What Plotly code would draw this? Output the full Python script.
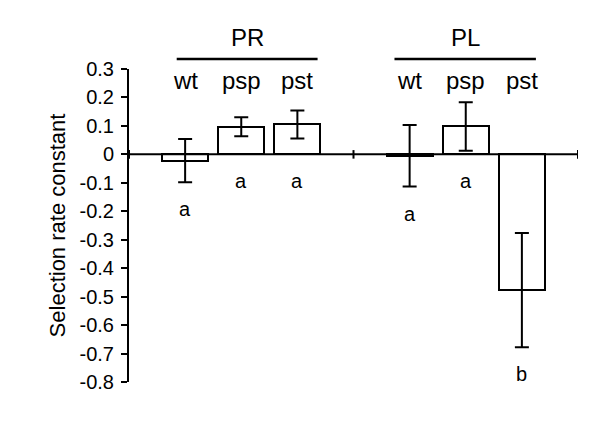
import plotly.graph_objects as go

# data
groups = ["PR", "PL"]
strains = ["wt", "psp", "pst", "wt", "psp", "pst"]
x_pos = [0, 1, 2, 4, 5, 6]
means = [-0.022, 0.097, 0.105, -0.005, 0.098, -0.477]
errors = [0.076, 0.033, 0.049, 0.108, 0.085, 0.201]
letters = ["a", "a", "a", "a", "a", "b"]
y_ticks = [0.3, 0.2, 0.1, 0, -0.1, -0.2, -0.3, -0.4, -0.5, -0.6, -0.7, -0.8]

FONT = "Liberation Sans, Arial, sans-serif"

fig = go.Figure()

fig.add_trace(go.Bar(
    x=x_pos,
    y=means,
    width=0.82,
    marker=dict(color="white", line=dict(color="black", width=2)),
    error_y=dict(type="data", array=errors, visible=True,
                 color="black", thickness=2, width=7),
    showlegend=False,
))

# horizontal zero line with crossing ticks
fig.add_shape(type="line", x0=-1, x1=7, y0=0, y1=0,
              line=dict(color="black", width=2), layer="above")
for xt in [-1, 3, 7]:
    fig.add_shape(type="line", x0=xt, x1=xt, y0=-0.015, y1=0.015,
                  line=dict(color="black", width=2))

annotations = []
# strain labels above bars
for xp, s in zip(x_pos, strains):
    annotations.append(dict(x=xp, y=0.962, xref="x", yref="paper", text=s,
                            yanchor="middle", showarrow=False, font=dict(size=24)))
# significance letters below bars / error bars
for xp, m, e, l in zip(x_pos, means, errors, letters):
    annotations.append(dict(x=xp, y=min(0, m - e) - 0.095, xref="x", yref="y",
                            text=l, yanchor="middle", showarrow=False,
                            font=dict(size=20)))
# group headers with lines
group_spans = {"PR": (-0.15, 2.36), "PL": (3.73, 6.25)}
for g in groups:
    a, b = group_spans[g]
    fig.add_shape(type="line", x0=a, x1=b, y0=1.032, y1=1.032,
                  xref="x", yref="paper", line=dict(color="black", width=2.5))
    annotations.append(dict(x=(a + b) / 2, y=1.102, xref="x", yref="paper",
                            text=g, yanchor="middle", showarrow=False,
                            font=dict(size=24)))

# page body adds an 8px offset, margins compensate for it
fig.update_layout(
    width=600, height=431,
    margin=dict(l=121, r=30, t=61, b=57),
    plot_bgcolor="white", paper_bgcolor="white",
    font=dict(family=FONT, color="black", size=20),
    annotations=annotations,
    bargap=0,
)
fig.update_xaxes(range=[-1, 7], visible=False)
fig.update_yaxes(
    range=[-0.8, 0.3],
    tickvals=y_ticks,
    ticktext=[("%g" % v) for v in y_ticks],
    ticks="outside", ticklen=6, tickwidth=2, tickcolor="black",
    showline=True, linewidth=2, linecolor="black",
    showgrid=False, zeroline=False,
    tickfont=dict(size=20),
    ticklabelstandoff=3,
    title=dict(text="Selection rate constant", font=dict(size=22), standoff=8),
)

fig.write_html("out.html")
